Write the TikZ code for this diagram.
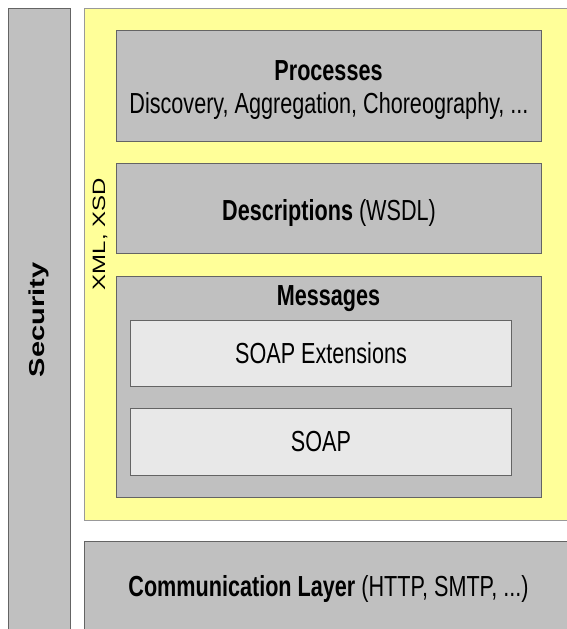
\documentclass[tikz,border=0pt]{standalone}
\usepackage{fontspec}
\setmainfont{Liberation Sans}
\newcommand{\hsq}[1]{\scalebox{0.745}[1]{#1}}
\newcommand{\vsq}[1]{\scalebox{1}[0.745]{#1}}
\definecolor{boxgray}{RGB}{192,192,192}
\definecolor{lightbox}{RGB}{232,232,232}
\definecolor{paleyellow}{RGB}{255,255,153}
\definecolor{edge}{RGB}{100,100,100}
\begin{document}
\begin{tikzpicture}[x=1pt,y=-1pt,
  box/.style={draw=edge, line width=0.8pt, fill=boxgray},
  inner/.style={draw=edge, line width=0.8pt, fill=lightbox},
  ybox/.style={draw=black!40, line width=0.8pt, fill=paleyellow},
  lbl/.style={font=\fontsize{29}{33}\selectfont, inner sep=0pt, anchor=base}]
\useasboundingbox (0,0) rectangle (566,629);
\fill[white] (0,0) rectangle (566,629);
% security
\draw[box] (8,8) rectangle (70,640);
\node[inner sep=0pt, rotate=90, font=\fontsize{29}{33}\selectfont\bfseries] (sec) at (39,320) {\vsq{Security}};
% yellow
\draw[ybox] (84,8) rectangle (580,520);
\node[inner sep=0pt, rotate=90, font=\fontsize{24}{28}\selectfont] (xml) at (100,234) {\vsq{XML, XSD}};
% processes
\draw[box] (116,30) rectangle (541,141);
\node[lbl] (proc) at (328.5,80) {\hsq{\textbf{Processes}}};
\node[lbl] (procsub) at (329,113) {\hsq{Discovery, Aggregation, Choreography, ...}};
% descriptions
\draw[box] (116,163) rectangle (541,253);
\node[lbl] (desc) at (329,220) {\hsq{\textbf{Descriptions} (WSDL)}};
% messages
\draw[box] (116,276) rectangle (541,497);
\node[lbl] (msg) at (328.5,305) {\hsq{\textbf{Messages}}};
\draw[inner] (130,320) rectangle (511,386);
\node[lbl] (ext) at (321,363) {\hsq{SOAP Extensions}};
\draw[inner] (130,408) rectangle (511,475);
\node[lbl] (soap) at (321,451) {\hsq{SOAP}};
% communication
\draw[box] (84,541) rectangle (580,640);
\node[lbl] (comm) at (328.5,596) {\hsq{\textbf{Communication Layer} (HTTP, SMTP, ...)}};
\end{tikzpicture}
\end{document}
